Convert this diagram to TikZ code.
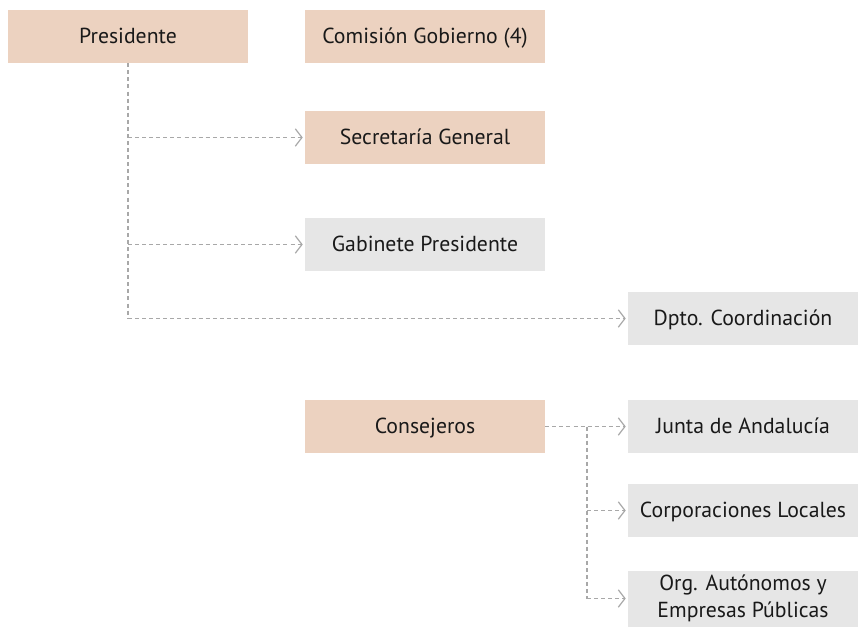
\documentclass[tikz,border=0pt]{standalone}
\usepackage{fontspec}
\setmainfont{PT Sans}
\usetikzlibrary{arrows.meta}
\definecolor{beige}{HTML}{ECD2C0}
\definecolor{lgrey}{HTML}{E6E6E6}
\definecolor{lnk}{HTML}{A8A8A8}
\begin{document}
\begin{tikzpicture}[x=0.75pt,y=-0.75pt,
  box/.style={rectangle,inner sep=0pt,minimum height=39.75pt,align=center,font=\fontsize{16.3}{20}\selectfont,text=black!90},
  one/.style={text height=13pt,text depth=2pt},
  wbox/.style={box,one,minimum width=180pt},
  nbox/.style={box,minimum width=172.5pt},
  conn/.style={draw=lnk,line width=0.9pt,dash pattern=on 3pt off 2.3pt},
  arr/.style={conn,-{Straight Barb[length=5pt,width=13pt,line width=0.9pt]}}]
\useasboundingbox (0,0) rectangle (859,628);
\node[wbox,fill=beige] (pres) at (128,36.5) {Presidente};
\node[wbox,fill=beige] (com) at (425,36.5) {Comisión Gobierno (4)};
\node[wbox,fill=beige] (sec) at (425,137.5) {Secretaría General};
\node[wbox,fill=lgrey] (gab) at (425,244.5) {Gabinete Presidente};
\node[nbox,one,fill=lgrey] (dpto) at (743,318.5) {Dpto. Coordinación};
\node[wbox,fill=beige] (cons) at (425,426.5) {Consejeros};
\node[nbox,one,fill=lgrey] (junta) at (743,426.5) {Junta de Andalucía};
\node[nbox,one,fill=lgrey] (corp) at (743,510.5) {Corporaciones Locales};
\node[nbox,fill=lgrey,minimum height=42pt] (org) at (743,598.5) {Org. Autónomos y\\Empresas Públicas};
\coordinate (p1) at (pres.south |- sec.west);
\coordinate (p2) at (pres.south |- gab.west);
\coordinate (p3) at (pres.south |- dpto.west);
\draw[conn] (pres.south) -- (p3);
\draw[arr] (p1) -- ([xshift=-1.5pt]sec.west);
\draw[arr] (p2) -- ([xshift=-1.5pt]gab.west);
\draw[arr] (p3) -- ([xshift=-1.5pt]dpto.west);
\coordinate (c0) at (587,426.5);
\coordinate (c2) at (c0 |- corp.west);
\coordinate (c3) at (c0 |- org.west);
\draw[arr] (cons.east) -- ([xshift=-1.5pt]junta.west);
\draw[conn] (c0) -- (c3);
\draw[arr] (c2) -- ([xshift=-1.5pt]corp.west);
\draw[arr] (c3) -- ([xshift=-1.5pt]org.west);
\end{tikzpicture}
\end{document}
